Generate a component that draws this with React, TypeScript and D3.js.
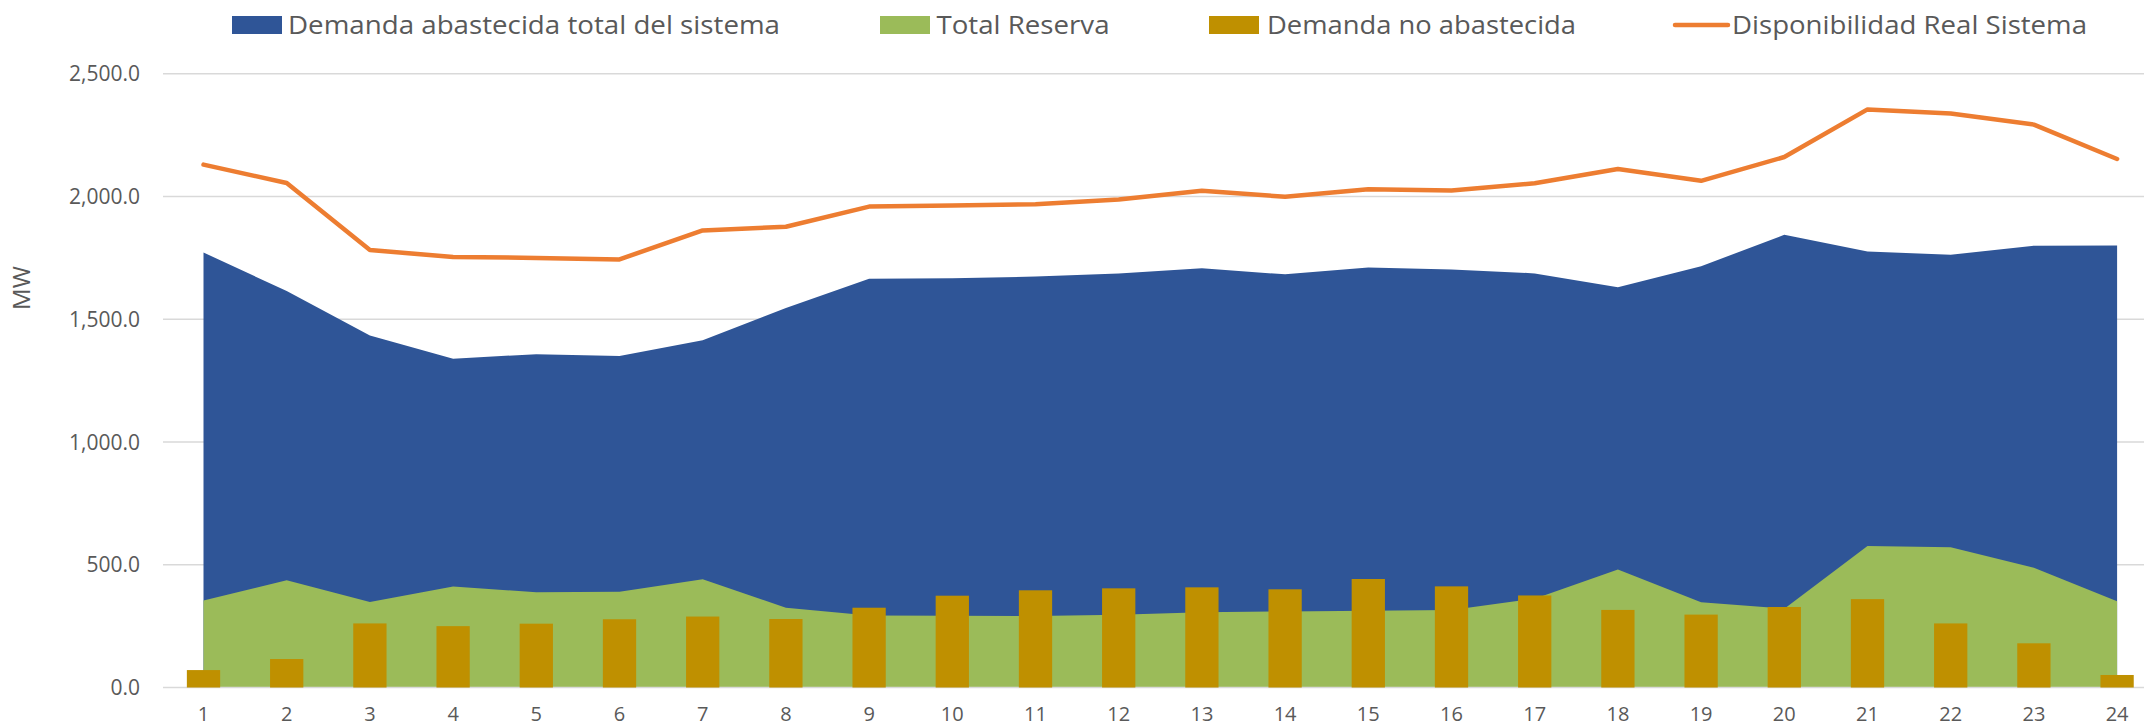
import React from "react";
import * as d3 from "d3";

const categories = ["1","2","3","4","5","6","7","8","9","10","11","12","13","14","15","16","17","18","19","20","21","22","23","24"];
const demandaAbastecida = [1772, 1615, 1434, 1339, 1358, 1350, 1415, 1546, 1665, 1667, 1674, 1687, 1708, 1683, 1711, 1703, 1687, 1630, 1716, 1844, 1776, 1763, 1800, 1801];
const totalReserva = [354, 437, 348, 411, 388, 390, 441, 325, 293, 292, 291, 296, 307, 310, 313, 316, 362, 481, 347, 321, 576, 571, 488, 351];
const demandaNoAbastecida = [71, 116, 261, 250, 260, 278, 289, 279, 325, 374, 396, 404, 408, 400, 442, 412, 375, 316, 297, 328, 360, 261, 180, 51];
const disponibilidad = [2130, 2055, 1782, 1754, 1750, 1744, 1862, 1877, 1959, 1963, 1969, 1988, 2024, 1999, 2030, 2025, 2054, 2112, 2064, 2161, 2355, 2338, 2293, 2153];
const yTicks = [0, 500, 1000, 1500, 2000, 2500];

const W = 2144;
const H = 728;
const FONT = "'Open Sans', 'Segoe UI', sans-serif";
const TEXT = "#595959";

export default function App() {
  const x = d3.scaleBand<string>().domain(categories).range([161.9, 161.9 + 24 * 83.2]).paddingInner(0).paddingOuter(0);
  const y = d3.scaleLinear().domain([0, 2500]).range([687.5, 73.8]);
  const cx = (c: string) => (x(c) as number) + x.bandwidth() / 2;
  const barW = x.bandwidth() / 2.5;

  const areaBlue = d3.area<number>().x((_, i) => cx(categories[i])).y0(y(0)).y1((d) => y(d));
  const line = d3.line<number>().x((_, i) => cx(categories[i])).y((d) => y(d));

  const fmt = d3.format(",.1f");
  const gridX0 = 163;

  const legend = [
    { type: "rect", color: "#2f5597", x: 232, w: 50, tx: 288, tl: 492, label: "Demanda abastecida total del sistema" },
    { type: "rect", color: "#9bbb59", x: 880, w: 50, tx: 936.5, tl: 173, label: "Total Reserva" },
    { type: "rect", color: "#bf9000", x: 1209, w: 50, tx: 1267, tl: 309, label: "Demanda no abastecida" },
    { type: "line", color: "#ed7d31", x: 1675, w: 53, tx: 1732, tl: 355, label: "Disponibilidad Real Sistema" },
  ];

  return (
    <svg width={W} height={H} style={{ position: "absolute", left: 0, top: 0, background: "#fff" }} fontFamily={FONT}>
      {yTicks.filter((t) => t > 0).map((t) => (
        <line key={t} x1={gridX0} x2={W} y1={y(t)} y2={y(t)} stroke="#d9d9d9" strokeWidth={1.5} />
      ))}
      <path d={areaBlue(demandaAbastecida) || ""} fill="#2f5597" />
      <path d={areaBlue(totalReserva) || ""} fill="#9bbb59" />
      <line x1={gridX0} x2={W} y1={y(0)} y2={y(0)} stroke="#d9d9d9" strokeWidth={1.5} />
      {demandaNoAbastecida.map((v, i) => (
        <rect key={i} x={cx(categories[i]) - barW / 2} y={y(v)} width={barW} height={y(0) - y(v)} fill="#bf9000" />
      ))}
      <path d={line(disponibilidad) || ""} fill="none" stroke="#ed7d31" strokeWidth={4.5} strokeLinejoin="round" strokeLinecap="round" />
      {yTicks.map((t) => (
        <text key={t} x={140} y={y(t)} dy="0.36em" textAnchor="end" fontSize={21} fill={TEXT}>{fmt(t)}</text>
      ))}
      {categories.map((c) => (
        <text key={c} x={cx(c)} y={721} textAnchor="middle" fontSize={20} fill={TEXT}>{c}</text>
      ))}
      <text transform="translate(30,288) rotate(-90)" textAnchor="middle" fontSize={24} fill={TEXT}>MW</text>
      {legend.map((l) => (
        <g key={l.label}>
          {l.type === "rect" ? (
            <rect x={l.x} y={16} width={l.w} height={18} fill={l.color} />
          ) : (
            <line x1={l.x} x2={l.x + l.w} y1={25} y2={25} stroke={l.color} strokeWidth={4.5} strokeLinecap="round" />
          )}
          <text x={l.tx} y={34} fontSize={25} fill={TEXT} textLength={l.tl} lengthAdjust="spacingAndGlyphs">{l.label}</text>
        </g>
      ))}
    </svg>
  );
}
